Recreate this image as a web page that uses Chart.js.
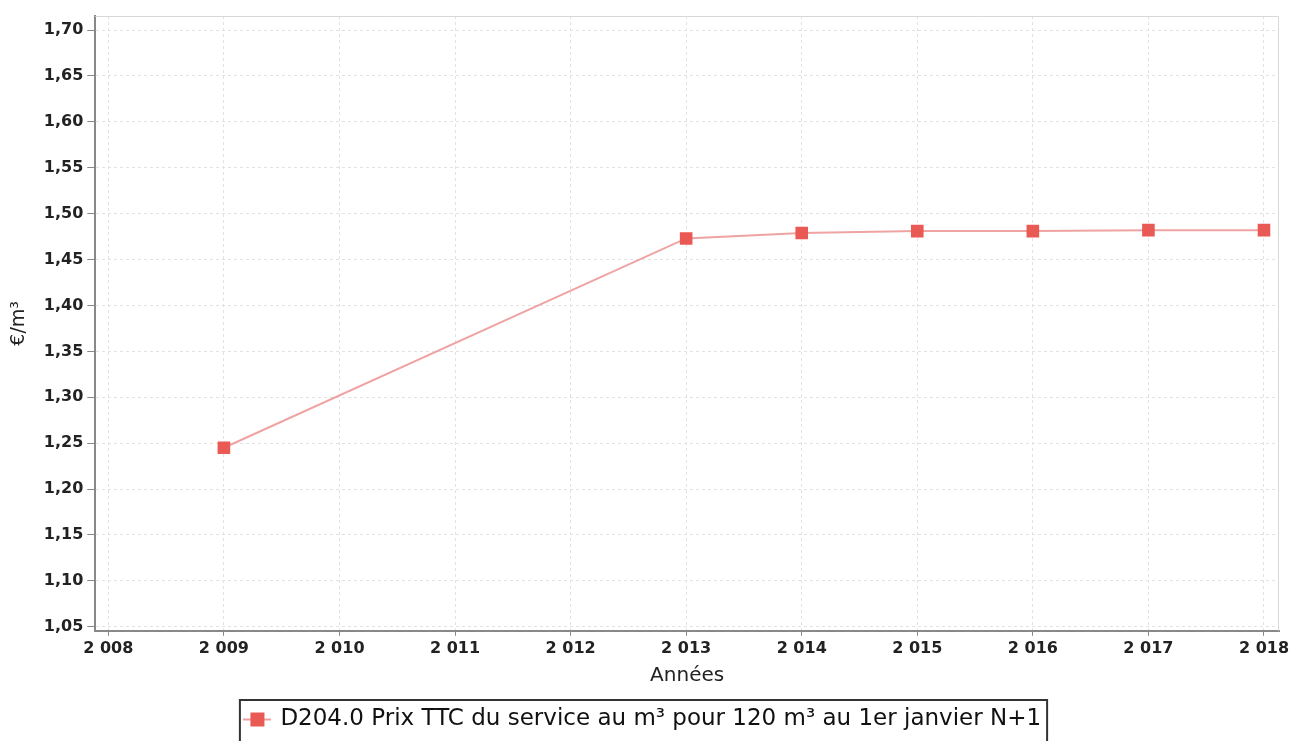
<!DOCTYPE html>
<html>
<head>
<meta charset="utf-8">
<script src="https://cdn.jsdelivr.net/npm/chart.js@4.4.1/dist/chart.umd.min.js"></script>
<style>
  html, body { margin: 0; padding: 0; background: #fff; }
  #wrap { width: 1293px; height: 741px; }
</style>
</head>
<body>
<div id="wrap"><canvas id="prixChart"></canvas></div>
<script>
const years = [2009, 2013, 2014, 2015, 2016, 2017, 2018];
const prices = [1.245, 1.473, 1.479, 1.481, 1.481, 1.482, 1.482];
const xTicks = [2008, 2009, 2010, 2011, 2012, 2013, 2014, 2015, 2016, 2017, 2018];
const seriesLabel = 'D204.0 Prix TTC du service au m³ pour 120 m³ au 1er janvier N+1';

// marker for the legend: line with a square in the middle
const legendIcon = document.createElement('canvas');
legendIcon.width = 28; legendIcon.height = 16;
const ic = legendIcon.getContext('2d');
ic.strokeStyle = '#ef9f9f'; ic.lineWidth = 2;
ic.beginPath(); ic.moveTo(0, 8); ic.lineTo(28, 8); ic.stroke();
ic.fillStyle = '#ea5a55'; ic.fillRect(7, 1, 14, 14);

const frame = {
    id: 'frame',
    beforeDatasetsDraw(chart) {
        const a = chart.chartArea, c = chart.ctx;
        c.save();
        c.strokeStyle = '#d8d8d8'; c.lineWidth = 1;
        c.beginPath();
        c.moveTo(a.left, a.top + 0.5); c.lineTo(a.right - 0.5, a.top + 0.5); c.lineTo(a.right - 0.5, a.bottom);
        c.stroke();
        c.restore();
    },
    afterDraw(chart) {
        const hb = chart.legend.legendHitBoxes[0];
        if (!hb) return;
        const c = chart.ctx;
        c.save();
        c.strokeStyle = '#333'; c.lineWidth = 2;
        c.strokeRect(hb.left - 6, hb.top - 8, hb.width + 12, hb.height + 20);
        c.restore();
    }
};

const ctx = document.getElementById('prixChart').getContext('2d');
let chart = new Chart(ctx, {
    type: 'line',
    data: {
        datasets: [{
            label: seriesLabel,
            data: years.map((y, i) => ({ x: y, y: prices[i] })),
            borderColor: '#efa3a3',
            borderWidth: 2,
            backgroundColor: '#ea5a55',
            pointBackgroundColor: '#ea5a55',
            pointBorderColor: '#ea5a55',
            pointStyle: 'rect',
            pointRadius: 7.5,
            pointHoverRadius: 7.5,
            fill: false,
            tension: 0
        }]
    },
    plugins: [frame],
    options: {
        responsive: true,
        maintainAspectRatio: false,
        animation: false,
        layout: { padding: { left: 8, right: 14, top: 16, bottom: 0 } },
        plugins: {
            tooltip: { enabled: false },
            legend: {
                position: 'bottom',
                labels: {
                    usePointStyle: true,
                    pointStyle: legendIcon,
                    color: '#111',
                    font: { family: 'DejaVu Sans', size: 23 },
                    padding: 20
                }
            }
        },
        scales: {
            x: {
                type: 'linear',
                min: 2007.887,
                max: 2018.13,
                afterBuildTicks: (scale) => { scale.ticks = xTicks.map(v => ({ value: v })); },
                ticks: {
                    color: '#222',
                    font: { family: 'DejaVu Sans', size: 16, weight: 'bold' },
                    maxRotation: 0,
                    callback: (v) => String(v).replace(/^(\d)(\d{3})$/, '$1 $2')
                },
                grid: { color: '#e2e2e2', tickColor: '#888', tickLength: 5 },
                border: { color: '#888', width: 2, dash: [3, 3] },
                title: {
                    display: true, text: 'Années', color: '#222',
                    font: { family: 'DejaVu Sans', size: 20 },
                    padding: { top: 3, bottom: 0 }
                }
            },
            y: {
                min: 1.0456,
                max: 1.7153,
                afterBuildTicks: (scale) => {
                    const t = [];
                    for (let i = 0; i <= 13; i++) t.push({ value: +(1.05 + i * 0.05).toFixed(2) });
                    scale.ticks = t;
                },
                ticks: {
                    color: '#222',
                    font: { family: 'DejaVu Sans', size: 16, weight: 'bold' },
                    padding: 4,
                    callback: (v) => v.toFixed(2).replace('.', ',')
                },
                grid: { color: '#e2e2e2', tickColor: '#888', tickLength: 8 },
                border: { color: '#888', width: 2, dash: [3, 3] },
                title: {
                    display: true, text: '€/m³', color: '#222',
                    font: { family: 'DejaVu Sans', size: 19 },
                    padding: { top: 0, bottom: 9 }
                }
            }
        }
    }
});
</script>
</body>
</html>
